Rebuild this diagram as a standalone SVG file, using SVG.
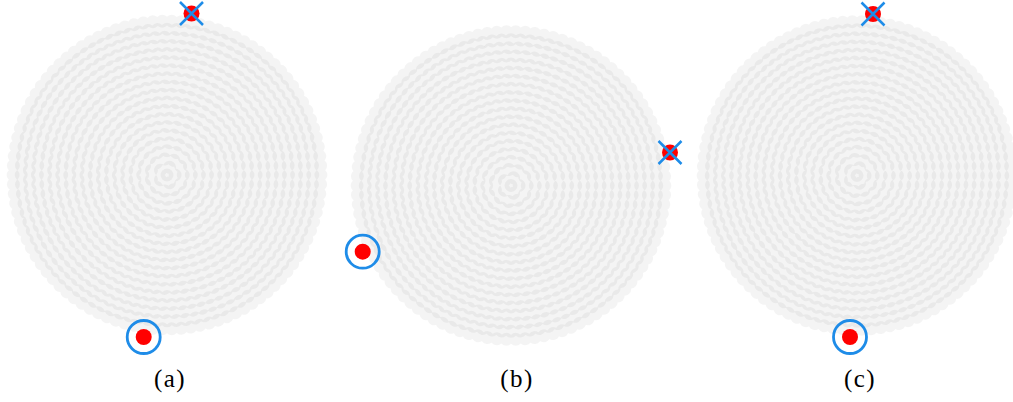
<svg xmlns="http://www.w3.org/2000/svg" xmlns:xlink="http://www.w3.org/1999/xlink" width="1013" height="402" viewBox="0 0 1013 402">
<style>
.rg{fill:none;stroke:#000;stroke-opacity:0.045;stroke-width:13;stroke-linecap:round;stroke-dasharray:0.001 0.999}
.cd{fill:#000;fill-opacity:0.045}
.dot{fill:#ff0000}
.ring{fill:none;stroke:#1e8ce8;stroke-width:2.8}
.x{stroke:#1e8ce8;stroke-width:2.5;stroke-linecap:butt}
.lbl{font-family:"Liberation Serif","Times New Roman",serif;font-size:25px;fill:#000;text-anchor:middle;letter-spacing:1.5px}
</style>
<defs>
<g id="disc">
<circle class="cd" cx="0" cy="0" r="6.5"/>
<circle class="rg" r="8.1" pathLength="5"/>
<circle class="rg" r="16.2" pathLength="11"/>
<circle class="rg" r="24.3" pathLength="16"/>
<circle class="rg" r="32.4" pathLength="21"/>
<circle class="rg" r="40.5" pathLength="27"/>
<circle class="rg" r="48.6" pathLength="32"/>
<circle class="rg" r="56.7" pathLength="37"/>
<circle class="rg" r="64.8" pathLength="43"/>
<circle class="rg" r="72.9" pathLength="48"/>
<circle class="rg" r="81" pathLength="54"/>
<circle class="rg" r="89.1" pathLength="59"/>
<circle class="rg" r="97.2" pathLength="64"/>
<circle class="rg" r="105.3" pathLength="70"/>
<circle class="rg" r="113.4" pathLength="75"/>
<circle class="rg" r="121.5" pathLength="80"/>
<circle class="rg" r="129.6" pathLength="86"/>
<circle class="rg" r="137.7" pathLength="91"/>
<circle class="rg" r="145.8" pathLength="96"/>
<circle class="rg" r="153.9" pathLength="102"/>
</g>
<g id="start">
<circle class="dot" r="8"/>
<circle class="ring" r="16.5"/>
</g>
<g id="goal">
<circle class="dot" r="8"/>
<path class="x" d="M-11.5,-11.5L11.5,11.5M11.5,-11.5L-11.5,11.5"/>
</g>
</defs>
<rect width="1013" height="402" fill="#fff"/>
<g id="panel-a">
<use xlink:href="#disc" x="167" y="175"/>
<use id="start-a" xlink:href="#start" x="143.7" y="337"/>
<use id="goal-a" xlink:href="#goal" x="191.5" y="13.5"/>
<text class="lbl" x="170" y="387">(a)</text>
</g>
<g id="panel-b">
<use xlink:href="#disc" x="511" y="185.5"/>
<use id="start-b" xlink:href="#start" x="362.7" y="251.7"/>
<use id="goal-b" xlink:href="#goal" x="670" y="152.5"/>
<text class="lbl" x="517" y="387">(b)</text>
</g>
<g id="panel-c">
<use xlink:href="#disc" x="857" y="175.5"/>
<use id="start-c" xlink:href="#start" x="850" y="337"/>
<use id="goal-c" xlink:href="#goal" x="873" y="14"/>
<text class="lbl" x="860" y="387">(c)</text>
</g>
<g id="connectors"/>
</svg>
